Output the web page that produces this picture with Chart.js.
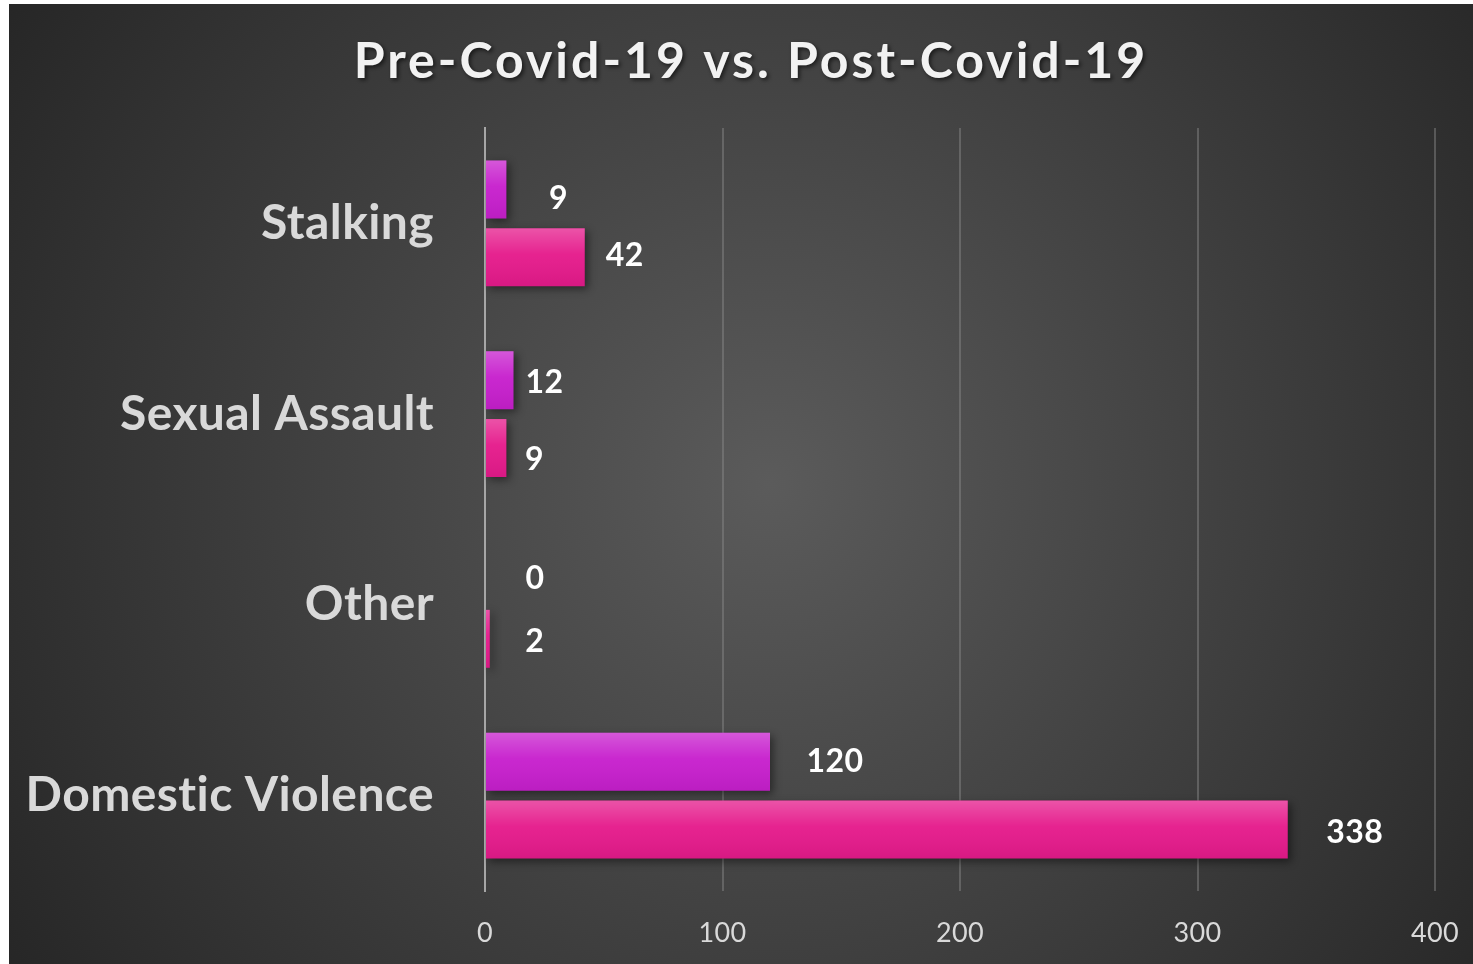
<!DOCTYPE html>
<html>
<head>
<meta charset="utf-8">
<script src="https://cdn.jsdelivr.net/npm/chart.js@4.4.1/dist/chart.umd.min.js"></script>
<style>
  html, body { margin: 0; padding: 0; background: #ffffff; }
  #wrap { position: absolute; left: 9px; top: 4px; width: 1464px; height: 960px; }
</style>
</head>
<body>
<div id="wrap"><canvas id="crimeChart" width="1464" height="960"></canvas></div>
<script>
// ---- data ----
const categories = ["Stalking", "Sexual Assault", "Other", "Domestic Violence"];
const preCovid = [9, 12, 0, 120];
const postCovid = [42, 9, 2, 338];
const xTicks = [0, 100, 200, 300, 400];
const chartTitle = "Pre-Covid-19 vs. Post-Covid-19";

// label nudges (px from bar end), as placed in the original
const preLabelShift = [[52, 9], [31, 3], [50, 8], [65, 0]];
const postLabelShift = [[40, -2], [28, 12], [45, 3], [67, 3]];

// ===============================
// PLUGINS
// ===============================

const backgroundPlugin = {
    id: 'bg',
    beforeDraw(chart) {
        const c = chart.ctx;
        const w = chart.width, h = chart.height;
        const g = c.createRadialGradient(w * 0.52, h * 0.5, 0, w * 0.52, h * 0.5, w * 0.62);
        g.addColorStop(0, '#5b5b5b');
        g.addColorStop(1, '#262626');
        c.save();
        c.fillStyle = g;
        c.fillRect(0, 0, w, h);
        // title
        c.font = 'bold 50px Lato';
        c.letterSpacing = '3px';
        c.textAlign = 'center';
        c.textBaseline = 'middle';
        c.shadowColor = 'rgba(0,0,0,0.6)';
        c.shadowOffsetX = 2;
        c.shadowOffsetY = 2;
        c.shadowBlur = 4;
        c.fillStyle = '#f2f2f2';
        c.fillText(chartTitle, 742, 58);
        c.restore();
        // tiny spacing keeps Lato from forming "ti" ligatures in the axis labels
        c.letterSpacing = '0.4px';
    }
};

const barStylePlugin = {
    id: 'barStyle',
    beforeDatasetsDraw(chart) {
        const c = chart.ctx;
        c.save();
        c.shadowColor = 'rgba(0,0,0,0.45)';
        c.shadowBlur = 8;
        c.shadowOffsetX = 3;
        c.shadowOffsetY = 3;
    },
    afterDatasetsDraw(chart) {
        const c = chart.ctx;
        c.restore();
        // soft highlight at top of each bar
        chart.data.datasets.forEach((ds, di) => {
            chart.getDatasetMeta(di).data.forEach(bar => {
                const left = Math.min(bar.x, bar.base);
                const w = Math.abs(bar.x - bar.base);
                if (w < 0.5) return;
                const top = bar.y - bar.height / 2;
                const g = c.createLinearGradient(0, top, 0, top + bar.height);
                g.addColorStop(0, 'rgba(255,255,255,0.25)');
                g.addColorStop(0.45, 'rgba(255,255,255,0.04)');
                g.addColorStop(1, 'rgba(0,0,0,0.06)');
                c.fillStyle = g;
                c.fillRect(left, top, w, bar.height);
            });
        });
        // value labels
        c.save();
        c.font = 'bold 32px Lato';
        c.fillStyle = '#ffffff';
        c.textAlign = 'center';
        c.textBaseline = 'middle';
        chart.data.datasets.forEach((ds, di) => {
            const shifts = di === 0 ? preLabelShift : postLabelShift;
            chart.getDatasetMeta(di).data.forEach((bar, i) => {
                c.fillText(String(ds.data[i]), bar.x + shifts[i][0], bar.y + shifts[i][1]);
            });
        });
        c.restore();
    }
};

// ===============================
// GRAPHIQUE
// ===============================

const ctx = document.getElementById('crimeChart').getContext('2d');
new Chart(ctx, {
    type: 'bar',
    data: {
        labels: categories,
        datasets: [{
            label: "Pre-Covid-19",
            data: preCovid,
            backgroundColor: "#c71fcd",
            categoryPercentage: 0.712,
            barPercentage: 0.853
        }, {
            label: "Post-Covid-19",
            data: postCovid,
            backgroundColor: "#e51a8b",
            categoryPercentage: 0.712,
            barPercentage: 0.853
        }]
    },
    plugins: [backgroundPlugin, barStylePlugin],
    options: {
        indexAxis: 'y',
        responsive: false,
        animation: false,
        layout: { padding: { top: 124, right: 38, left: 0, bottom: 0 } },
        plugins: {
            legend: { display: false },
            tooltip: { enabled: false }
        },
        scales: {
            x: {
                min: xTicks[0],
                max: xTicks[xTicks.length - 1],
                afterBuildTicks: axis => { axis.ticks = xTicks.map(v => ({ value: v })); },
                afterFit: axis => {
                    axis.height = 73;
                    axis.paddingLeft = 0;
                    axis.paddingRight = 0;
                },
                ticks: {
                    color: "#d9d9d9",
                    font: { family: 'Lato', size: 27 },
                    padding: 26
                },
                grid: {
                    color: "rgba(140,140,140,0.45)",
                    lineWidth: 2,
                    drawTicks: false
                },
                border: { display: false }
            },
            y: {
                afterFit: axis => {
                    axis.width = 476;
                    axis.paddingTop = 0;
                    axis.paddingBottom = 0;
                },
                ticks: {
                    color: "#d9d9d9",
                    font: { family: 'Lato', size: 48, weight: 'bold' },
                    padding: 51
                },
                grid: { display: false, drawTicks: false },
                border: { display: true, color: "#a6a6a6", width: 2 }
            }
        }
    }
});
</script>
</body>
</html>
